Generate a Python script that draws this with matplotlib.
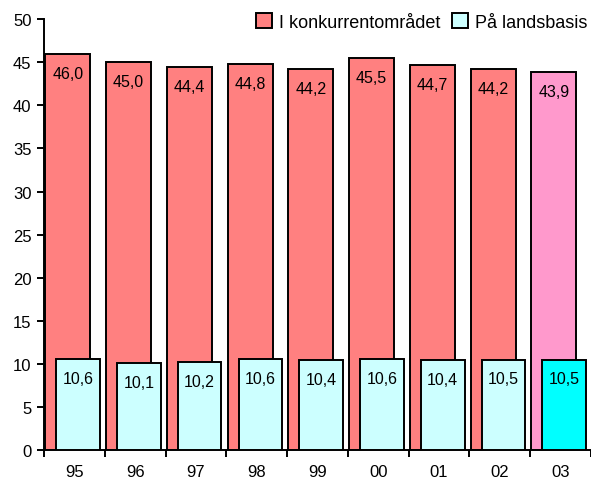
import matplotlib
matplotlib.use("Agg")
import matplotlib.pyplot as plt
import numpy as np

plt.rcParams['font.family'] = ['Liberation Sans', 'DejaVu Sans']

years = ["95", "96", "97", "98", "99", "00", "01", "02", "03"]
konkurrent = [46.0, 45.0, 44.4, 44.8, 44.2, 45.5, 44.7, 44.2, 43.9]
landsbasis = [10.6, 10.1, 10.2, 10.6, 10.4, 10.6, 10.4, 10.5, 10.5]

red_colors = ["#FF8080"] * 8 + ["#FF99CC"]
cyan_colors = ["#CCFFFF"] * 8 + ["#00FFFF"]

fig = plt.figure(figsize=(5.91, 4.81), dpi=100)
ax = fig.add_axes([0.0745, 0.0624, 1.0 - 0.0745, 0.958 - 0.0624])

x = np.arange(len(years))
# red bars behind, cyan bars in front and shifted right
b1 = ax.bar(x - 0.5 + 0.02, konkurrent, width=0.74, align='edge',
            color=red_colors, edgecolor='black', linewidth=1.4,
            label="I konkurrentområdet", zorder=2)
b2 = ax.bar(x - 0.5 + 0.2, landsbasis, width=0.72, align='edge',
            color=cyan_colors, edgecolor='black', linewidth=1.4,
            label="På landsbasis", zorder=3)

for bars, vals in ((b1, konkurrent), (b2, landsbasis)):
    for r, v in zip(bars, vals):
        ax.annotate(f"{v:.1f}".replace(".", ","),
                    (r.get_x() + r.get_width() / 2, v),
                    xytext=(0, -14), textcoords='offset points',
                    ha='center', va='center', fontsize=11.5, zorder=5)

ax.set_ylim(0, 50)
ax.set_yticks(np.arange(0, 51, 5))
ax.set_xlim(-0.5, 8.42)
ax.set_xticks(x)
ax.set_xticklabels(years)
ax.set_xticks(np.arange(-0.5, 9, 1), minor=True)
ax.tick_params(axis='x', which='major', length=0, pad=10, labelsize=12)
ax.tick_params(axis='x', which='minor', length=5, width=1.4, direction='out')
ax.tick_params(axis='y', length=5, width=1.4, labelsize=12, pad=4)

for s in ('top', 'right'):
    ax.spines[s].set_visible(False)
for s in ('left', 'bottom'):
    ax.spines[s].set_linewidth(1.4)

ax.legend(loc='upper left', bbox_to_anchor=(256 / 591, 1 - 14 / 481),
          bbox_transform=fig.transFigure, ncol=2, frameon=False,
          fontsize=13, handlelength=0.9, handleheight=0.9,
          handletextpad=0.4, columnspacing=0.6, borderpad=0, borderaxespad=0)

fig.savefig("out.png", dpi=100)
